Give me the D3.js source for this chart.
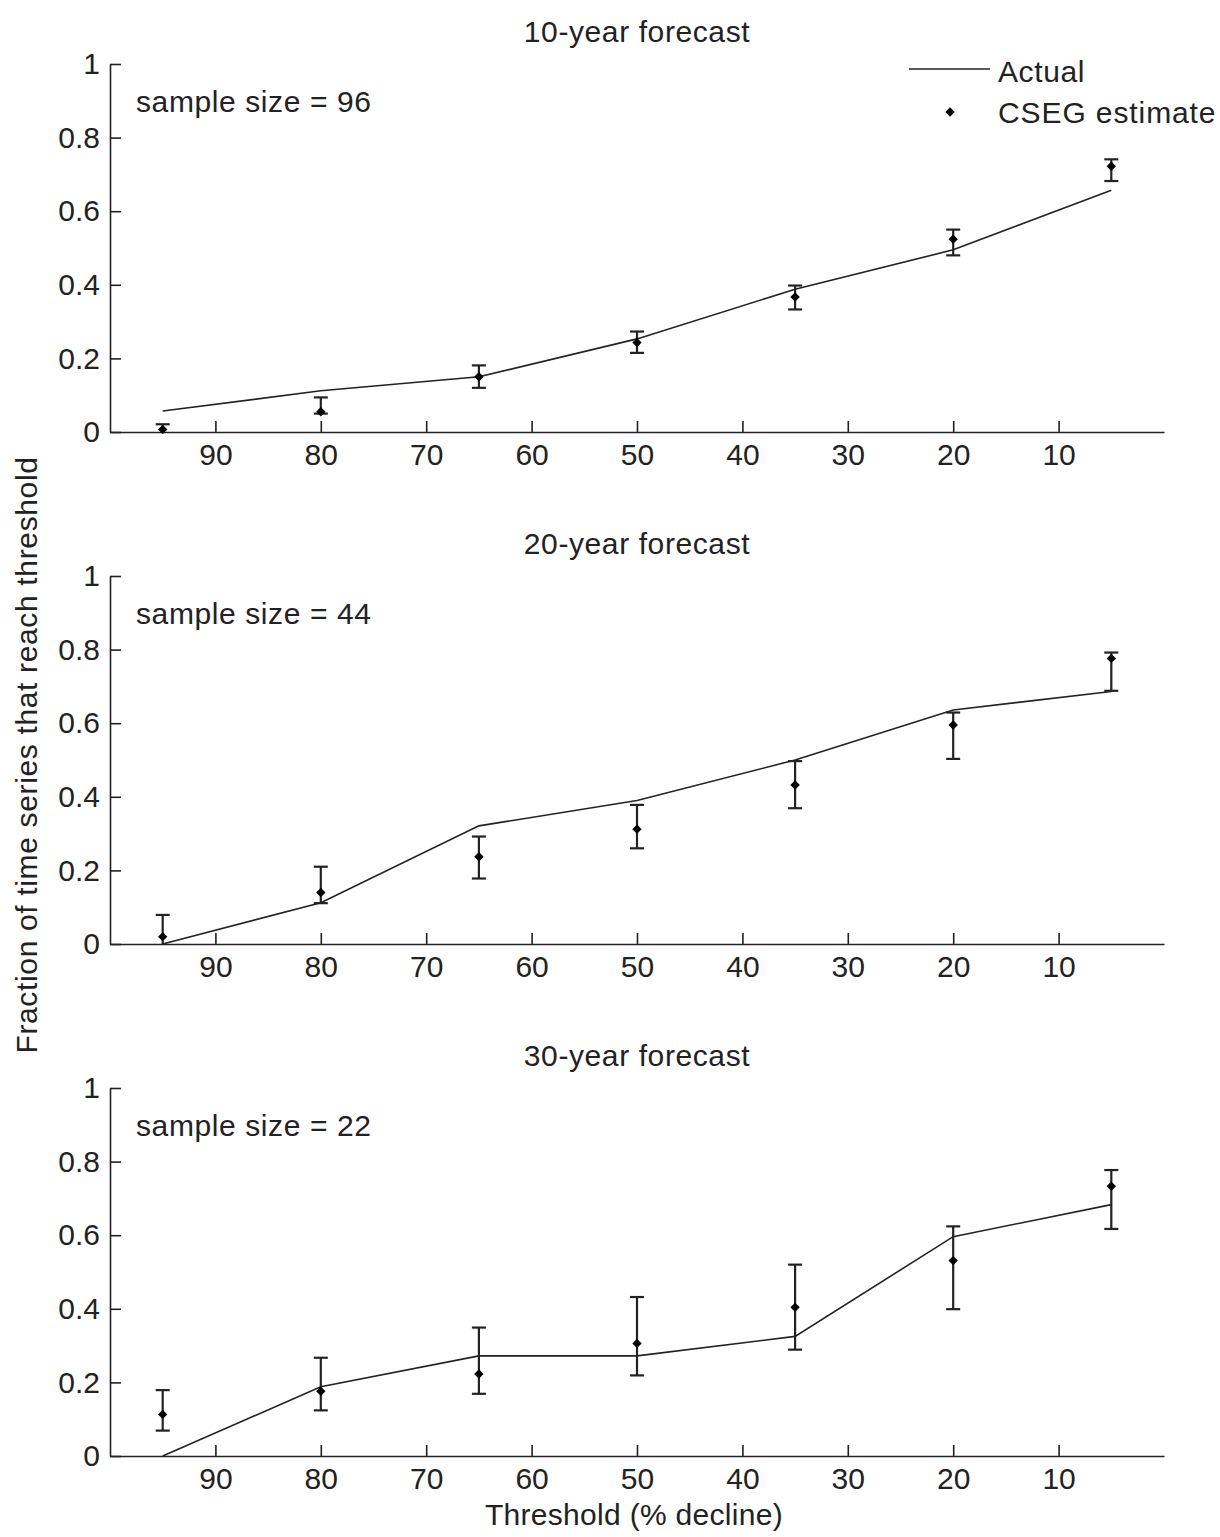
<!DOCTYPE html>
<html>
<head>
<meta charset="utf-8">
<script src="https://cdn.jsdelivr.net/npm/d3@7"></script>
<style>
  html, body { margin: 0; padding: 0; background: #fff; }
  svg { display: block; }
  text { font-family: "Liberation Sans", Arial, Helvetica, sans-serif; fill: #222; }
</style>
</head>
<body>
<svg id="chart" width="1220" height="1537"></svg>
<script>
// ---- data ----
const thresholds = [95, 80, 65, 50, 35, 20, 5];
const xTicks = [90, 80, 70, 60, 50, 40, 30, 20, 10];
const yTicks = [0, 0.2, 0.4, 0.6, 0.8, 1];
const panelTitles = ["10-year forecast", "20-year forecast", "30-year forecast"];
const sampleSizes = [96, 44, 22];

const actual10 = [0.057, 0.112, 0.150, 0.253, 0.388, 0.495, 0.657];
const est10    = [0.007, 0.055, 0.150, 0.243, 0.367, 0.524, 0.722];
const lo10     = [0.000, 0.050, 0.120, 0.215, 0.333, 0.480, 0.682];
const hi10     = [0.021, 0.094, 0.181, 0.273, 0.398, 0.550, 0.741];

const actual20 = [0.000, 0.112, 0.321, 0.390, 0.500, 0.636, 0.686];
const est20    = [0.020, 0.140, 0.237, 0.312, 0.432, 0.595, 0.776];
const lo20     = [0.000, 0.111, 0.178, 0.260, 0.369, 0.503, 0.688];
const hi20     = [0.079, 0.210, 0.292, 0.378, 0.497, 0.629, 0.792];

const actual30 = [0.000, 0.188, 0.272, 0.272, 0.325, 0.596, 0.683];
const est30    = [0.113, 0.176, 0.223, 0.306, 0.404, 0.531, 0.733];
const lo30     = [0.069, 0.124, 0.169, 0.219, 0.289, 0.399, 0.617];
const hi30     = [0.179, 0.267, 0.349, 0.432, 0.520, 0.624, 0.777];

const panels = [
  { actual: actual10, est: est10, lo: lo10, hi: hi10 },
  { actual: actual20, est: est20, lo: lo20, hi: hi20 },
  { actual: actual30, est: est30, lo: lo30, hi: hi30 }
];

// ---- layout ----
const ink = "#222";
const fontSize = 30;
const ls = "0.6px";
const left = 110, right = 1164;
const panelTops = [64, 576, 1088];
const panelH = 368;

const svg = d3.select("#chart");
const x = d3.scaleLinear().domain([100, 0]).range([left, right]);

panels.forEach((p, i) => {
  const top = panelTops[i];
  const y = d3.scaleLinear().domain([0, 1]).range([top + panelH, top]);
  const g = svg.append("g");

  // axes
  const ya = g.append("g").attr("transform", `translate(${left},0)`)
    .call(d3.axisLeft(y).tickValues(yTicks).tickFormat(d3.format("~g"))
      .tickSizeInner(-11).tickSizeOuter(0).tickPadding(10));
  const xa = g.append("g").attr("transform", `translate(0,${top + panelH})`)
    .call(d3.axisBottom(x).tickValues(xTicks).tickFormat(d3.format("d"))
      .tickSizeInner(-11).tickSizeOuter(0).tickPadding(12));
  [ya, xa].forEach(a => {
    a.selectAll("path, line").attr("stroke", ink).attr("stroke-width", 1.6);
    a.selectAll("text").attr("font-size", fontSize).attr("fill", ink)
      .attr("font-family", '"Liberation Sans", Arial, sans-serif');
  });

  // title
  g.append("text").attr("x", (left + right) / 2).attr("y", top - 22)
    .attr("text-anchor", "middle").attr("font-size", fontSize)
    .attr("letter-spacing", ls)
    .text(panelTitles[i]);

  // sample size
  g.append("text").attr("x", 136).attr("y", top + 48)
    .attr("font-size", fontSize).attr("letter-spacing", ls)
    .text("sample size = " + sampleSizes[i]);

  // actual line
  const line = d3.line().x((d, k) => x(thresholds[k])).y(d => y(d));
  g.append("path").datum(p.actual).attr("d", line)
    .attr("fill", "none").attr("stroke", ink).attr("stroke-width", 1.6);

  // error bars
  const cap = 7;
  const eb = g.append("g").attr("stroke", ink).attr("stroke-width", 2.2).attr("fill", "none");
  thresholds.forEach((t, k) => {
    const cx = x(t);
    const y0 = y(p.lo[k]), y1 = y(p.hi[k]);
    eb.append("line").attr("x1", cx).attr("x2", cx).attr("y1", y0).attr("y2", y1);
    eb.append("line").attr("x1", cx - cap).attr("x2", cx + cap).attr("y1", y1).attr("y2", y1);
    if (p.lo[k] > 0.001) {
      eb.append("line").attr("x1", cx - cap).attr("x2", cx + cap).attr("y1", y0).attr("y2", y0);
    }
  });

  // estimate markers
  const diamond = d3.symbol().type(d3.symbolSquare).size(44);
  g.append("g").selectAll("path").data(p.est).join("path")
    .attr("d", diamond)
    .attr("transform", (d, k) => `translate(${x(thresholds[k])},${y(d)}) rotate(45)`)
    .attr("fill", "#000");
});

// legend (first panel)
const lg = svg.append("g");
lg.append("line").attr("x1", 909).attr("x2", 990).attr("y1", 69).attr("y2", 69)
  .attr("stroke", ink).attr("stroke-width", 1.6);
lg.append("text").attr("x", 998).attr("y", 82).attr("font-size", fontSize)
  .attr("letter-spacing", ls).text("Actual");
lg.append("path").attr("d", d3.symbol().type(d3.symbolSquare).size(44))
  .attr("transform", "translate(950,112) rotate(45)").attr("fill", "#000");
lg.append("text").attr("x", 998).attr("y", 123).attr("font-size", fontSize)
  .attr("letter-spacing", "0.9px").text("CSEG estimate");

// axis labels
svg.append("text").attr("x", (left + right) / 2 - 3).attr("y", 1525)
  .attr("text-anchor", "middle").attr("font-size", fontSize)
  .attr("letter-spacing", "0.3px")
  .text("Threshold (% decline)");
svg.append("text")
  .attr("transform", "translate(37,755) rotate(-90)")
  .attr("text-anchor", "middle").attr("font-size", fontSize)
  .attr("letter-spacing", "0.65px")
  .text("Fraction of time series that reach threshold");
</script>
</body>
</html>
